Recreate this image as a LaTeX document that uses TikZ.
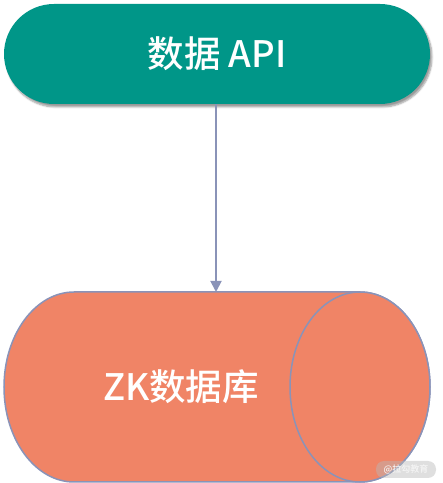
\documentclass[tikz,border=0pt]{standalone}
\usepackage{fontspec}
\newfontfamily\cjk{Noto Sans CJK SC}[UprightFont=* Medium, BoldFont=* Bold]
\usetikzlibrary{arrows.meta,shadows.blur}
\definecolor{apiteal}{RGB}{0,150,136}
\definecolor{dborange}{RGB}{240,132,102}
\definecolor{edgeblue}{RGB}{138,147,184}
\tikzset{
  apibox/.style={fill=apiteal, rounded corners=50pt, minimum width=426pt, minimum height=100pt,
    inner sep=0pt, text=white, font=\cjk\fontsize{36.5}{40}\selectfont,
    blur shadow={shadow xshift=2pt, shadow yshift=-3pt, shadow blur steps=6, shadow opacity=40}},
  dbshape/.style={fill=dborange, draw=edgeblue, line width=1.5pt},
  dblabel/.style={text=white, font=\cjk\fontsize{36.5}{40}\selectfont},
  link/.style={draw=edgeblue, line width=1.8pt, -{Triangle[width=11pt,length=11pt]}},
  wmark/.style={fill=gray!55, fill opacity=0.45, text opacity=1, rounded corners=8pt,
    minimum width=60pt, minimum height=17pt, inner sep=0pt, text=white!92!gray,
    font=\cjk\fontsize{9}{10}\selectfont}
}
\begin{document}
\begin{tikzpicture}[x=1pt,y=1pt]
\useasboundingbox (0,0) rectangle (443,483);
\node[apibox] (api) at (217,429) {数据 API};
% cylinder
\path[dbshape] (74,191) -- (360,191)
  arc[start angle=90, end angle=-90, x radius=70, y radius=95]
  -- (74,1)
  arc[start angle=270, end angle=90, x radius=70, y radius=95] -- cycle;
\draw[dbshape] (360,96) ellipse[x radius=70, y radius=95];
\node[dblabel] (db) at (181,96) {ZK数据库};
\coordinate (dbtop) at (216,191);
\draw[link] (api.south -| dbtop) -- (dbtop);
\node[wmark] (wm) at (406,13.5) {@拉勾教育};
\end{tikzpicture}
\end{document}
